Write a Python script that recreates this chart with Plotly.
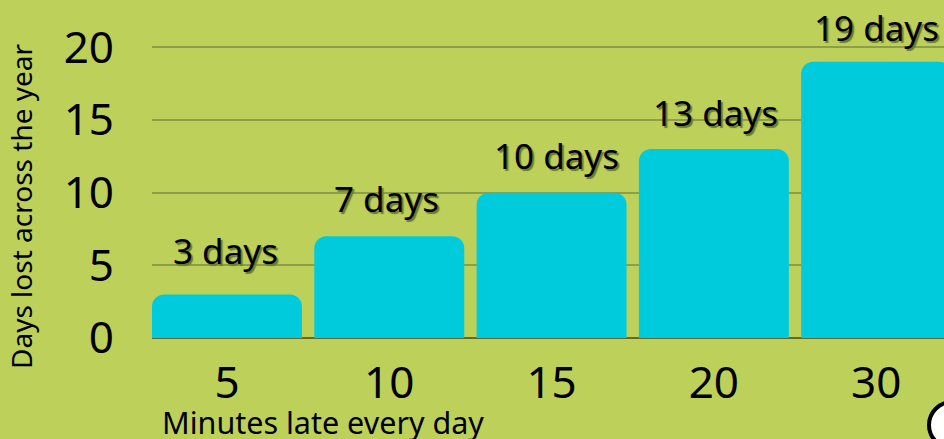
import plotly.graph_objects as go

categories = ["5", "10", "15", "20", "30"]
values = [3, 7, 10, 13, 19]
labels = ["3 days", "7 days", "10 days", "13 days", "19 days"]
y_ticks = [0, 5, 10, 15, 20]

# label placement offsets in pixels
label_yshift = [44, 38, 37, 37, 34]
label_xshift = [-1.5, -3, 5, 2, 0]

BG = "#bdd15a"
BAR = "#00cbdd"
FONT = "Noto Sans"
W, H = 944, 439
L, R, T, B = 152, 0, 40, 101
PW, PH = W - L - R, H - T - B


def px(x):
    return (x - L) / PW


def py(y):
    return (H - B - y) / PH


fig = go.Figure(go.Bar(
    x=list(range(len(categories))), y=values, width=0.924,
    marker=dict(color=BAR, line=dict(width=0), cornerradius=12),
    hoverinfo="skip",
))

annotations = [
    dict(x=i, y=v, text=t, xref="x", yref="y", showarrow=False, yshift=ys, xshift=xs,
         xanchor="center", yanchor="middle",
         font=dict(family=FONT, size=35, color="#000000", shadow="2px 2px 1px #6a7a30"))
    for i, (v, t, ys, xs) in enumerate(zip(values, labels, label_yshift, label_xshift))
]
annotations += [
    dict(x=px(323), y=py(422), text="Minutes late every day", xref="paper", yref="paper",
         xanchor="center", yanchor="middle", showarrow=False,
         font=dict(family=FONT, size=30.5, color="#000000")),
    dict(x=px(21), y=py(206), text="Days lost across the year", xref="paper", yref="paper",
         xanchor="center", yanchor="middle", showarrow=False, textangle=-90,
         font=dict(family=FONT, size=28, color="#000000")),
]

fig.update_layout(
    width=W, height=H, margin=dict(l=L, r=R, t=T, b=B),
    paper_bgcolor=BG, plot_bgcolor=BG, showlegend=False,
    font=dict(family=FONT, color="#000000"),
    annotations=annotations,
    xaxis=dict(
        range=[-0.462, 4.418], tickmode="array",
        tickvals=list(range(len(categories))), ticktext=categories,
        showgrid=False, zeroline=False, showline=False, ticks="",
        tickfont=dict(size=44, family=FONT), ticklabelstandoff=15,
    ),
    yaxis=dict(
        range=[0, 20.5], tickmode="array", tickvals=y_ticks, ticktext=[str(v) for v in y_ticks],
        showgrid=True, gridcolor="#8c9e48", gridwidth=2, zeroline=True,
        zerolinecolor="#5f6b2c", zerolinewidth=2, showline=False, ticks="",
        tickfont=dict(size=44, family=FONT), ticklabelstandoff=37,
    ),
    shapes=[dict(
        type="circle", xref="paper", yref="paper",
        x0=px(929), x1=px(975), y0=py(448), y1=py(402),
        fillcolor="#ffffff", line=dict(color="#000000", width=4),
    )],
)

fig.write_html("out.html", config={"displayModeBar": False},
               post_script="document.body.style.margin='0';document.documentElement.style.overflow='hidden';")
